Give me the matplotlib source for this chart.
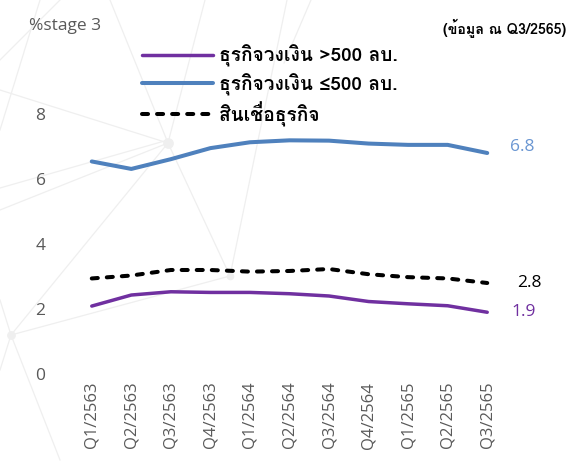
import matplotlib
matplotlib.use("Agg")
import matplotlib.pyplot as plt
from matplotlib import font_manager
from matplotlib.ft2font import FT2Font

# ---- data -------------------------------------------------------------
quarters = ["Q1/2563", "Q2/2563", "Q3/2563", "Q4/2563",
            "Q1/2564", "Q2/2564", "Q3/2564", "Q4/2564",
            "Q1/2565", "Q2/2565", "Q3/2565"]
large_limit = [2.09, 2.43, 2.53, 2.51, 2.51, 2.47, 2.40, 2.23, 2.16, 2.10, 1.9]
small_limit = [6.54, 6.31, 6.61, 6.95, 7.13, 7.19, 7.18, 7.09, 7.05, 7.05, 6.8]
business_loans = [2.94, 3.03, 3.20, 3.20, 3.15, 3.17, 3.23, 3.07, 2.98, 2.94, 2.8]

label_large = "ธุรกิจวงเงิน >500 ลบ."
label_small = "ธุรกิจวงเงิน ≤500 ลบ."
label_total = "สินเชื่อธุรกิจ"
y_title = "%stage 3"
note = "(ข้อมูล ณ Q3/2565)"
y_ticks = [0, 2, 4, 6, 8]

# ---- fonts ------------------------------------------------------------
def find_thai_font():
    for fe in font_manager.fontManager.ttflist:
        try:
            cmap = FT2Font(fe.fname).get_charmap()
        except Exception:
            continue
        if 0x0E18 in cmap and 0x0E01 in cmap:
            return fe.name
    return None

thai = find_thai_font()
latin = "Open Sans"
fam_latin = [latin, "DejaVu Sans"]
fam_thai = ([thai] if thai else []) + [latin, "DejaVu Sans"]
plt.rcParams["font.family"] = fam_latin

GREY = "#595959"
BLUE = "#4F81BD"
PURPLE = "#7030A0"

W, H = 568, 466
fig = plt.figure(figsize=(W / 100, H / 100), dpi=100)

# ---- faint decorative network behind the chart -------------------------
bg = fig.add_axes([0, 0, 1, 1], zorder=-5)
bg.set_xlim(0, W)
bg.set_ylim(H, 0)
bg.axis("off")
net_lines = [
    ((0, 210), (168, 143)), ((0, 188), (168, 140)), ((110, 0), (168, 143)),
    ((205, 0), (168, 143)), ((0, 90), (168, 143)), ((11, 335), (230, 276)),
    ((11, 335), (168, 143)), ((168, 143), (230, 276)), ((11, 335), (0, 370)),
    ((0, 60), (60, 0)), ((0, 300), (11, 335)), ((230, 276), (287, 0)),
    ((311, 0), (284, 63)), ((11, 335), (60, 460)), ((0, 130), (40, 0)),
]
for (x0, y0), (x1, y1) in net_lines:
    bg.plot([x0, x1], [y0, y1], color="#EFEFEF", lw=0.9, zorder=0)
for (cx, cy, r) in [(168, 143, 60), (11, 335, 40), (230, 276, 30)]:
    bg.scatter([cx], [cy], s=r, color="#EFEFEF", zorder=1, lw=0)

# ---- main chart -------------------------------------------------------
ax = fig.add_axes([72 / W, 92 / H, 435 / W, 260 / H])
ax.patch.set_alpha(0)
x = list(range(len(quarters)))

ax.plot(x, large_limit, color=PURPLE, lw=2.5, solid_capstyle="round",
        label=label_large, zorder=3)
ax.plot(x, small_limit, color=BLUE, lw=2.9, solid_capstyle="round",
        label=label_small, zorder=3)
ax.plot(x, business_loans, color="black", lw=2.9, dashes=(1.5, 2.24),
        dash_capstyle="round", label=label_total, zorder=3)

ax.set_xlim(-0.5, len(quarters) - 0.5)
ax.set_ylim(0, 8)
ax.set_yticks(y_ticks)
ax.set_yticklabels([str(t) for t in y_ticks])
ax.set_xticks(x)
ax.set_xticklabels(quarters, rotation=90)
ax.tick_params(axis="y", length=0, pad=19, labelsize=12.5, labelcolor=GREY)
ax.tick_params(axis="x", length=0, pad=5.5, labelsize=12, labelcolor=GREY)
for s in ax.spines.values():
    s.set_visible(False)

# end-of-line value labels
ax.annotate(f"{small_limit[-1]:.1f}", xy=(x[-1], small_limit[-1]),
            xytext=(25, 4.3), textcoords="offset points", ha="center",
            va="center", color="#6A96D2", fontsize=12.5)
ax.annotate(f"{business_loans[-1]:.1f}", xy=(x[-1], business_loans[-1]),
            xytext=(30, 0), textcoords="offset points", ha="center",
            va="center", color="black", fontsize=12.5)
ax.annotate(f"{large_limit[-1]:.1f}", xy=(x[-1], large_limit[-1]),
            xytext=(26, 0), textcoords="offset points", ha="center",
            va="center", color=PURPLE, fontsize=12.5)

leg = ax.legend(loc="upper left", bbox_to_anchor=(142 / W, 1 - 45 / H),
                bbox_transform=fig.transFigure, frameon=False,
                prop={"family": fam_thai, "weight": "bold", "size": 13.8},
                handlelength=3.7, handletextpad=0.33, labelspacing=0.3,
                borderpad=0, borderaxespad=0)

fig.text(29 / W, 1 - 26 / H, y_title, ha="left", va="center",
         color=GREY, fontsize=12.5)
fig.text(566 / W, 1 - 28 / H, note, ha="right", va="center",
         family=fam_thai, fontweight="bold", fontsize=10.2, color="black")

fig.savefig("out.png", dpi=100)
